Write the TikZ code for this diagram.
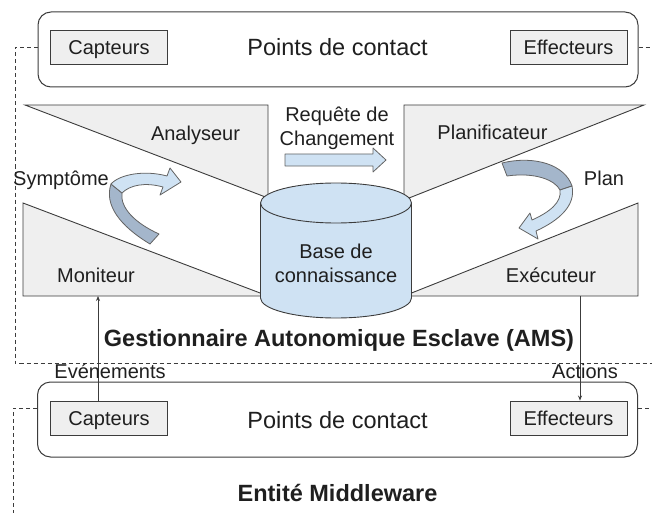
\documentclass[tikz,border=0pt]{standalone}
\usepackage{fontspec}
\setmainfont{Liberation Sans}
\usetikzlibrary{arrows.meta}
\definecolor{kbblue}{HTML}{CFE2F3}
\definecolor{kbdark}{HTML}{A4B6CB}
\definecolor{boxgray}{HTML}{EFEFEF}
\definecolor{linecol}{HTML}{3C3C3C}
\definecolor{txtcol}{HTML}{1F1F1F}

\begin{document}
\begin{tikzpicture}[x=1pt,y=-1pt,
  lbl/.style={font=\fontsize{20}{24}\selectfont,text=txtcol,inner sep=0pt,
    text height=14.3pt,text depth=0pt},
  lbltwo/.style={font=\fontsize{20}{24}\selectfont,text=txtcol,inner sep=0pt,align=center},
  pnt/.style={font=\fontsize{23.5}{28}\selectfont,text=txtcol,inner sep=0pt,
    text height=16.8pt,text depth=0pt},
  ttl/.style={font=\fontsize{23.5}{28}\selectfont\bfseries,text=txtcol,inner sep=0pt,
    text height=16.8pt,text depth=0pt},
  frame/.style={draw=linecol,line width=1pt,rounded corners=13pt,fill=white,
    minimum width=600pt,minimum height=75pt,inner sep=0pt},
  sensor/.style={lbl,draw=linecol,line width=0.9pt,fill=boxgray,
    minimum width=117pt,minimum height=34pt},
  wedge/.style={draw=linecol,line width=0.9pt,fill=boxgray},
  ribbon/.style={draw=linecol!80,line width=0.8pt,line join=round},
  dashline/.style={draw=linecol,line width=0.8pt,dash pattern=on 4pt off 3pt},
  flow/.style={draw=linecol,line width=0.8pt,-{Stealth[length=5pt,width=4pt]}}]
  \useasboundingbox (0,0) rectangle (652,513);

  % points de contact du haut
  \node[frame] (topbox) at (338,49.5) {};
  \node[sensor] (capT) at (109,47) {Capteurs};
  \node[sensor] (effT) at (568.5,47) {Effecteurs};
  \node[pnt] (ptT) at (337.5,47) {Points de contact};

  % cadre AMS
  \coordinate (amsTL) at (15,47);
  \coordinate (amsBL) at (15,363);
  \coordinate (amsBR) at (652,363);
  \coordinate (amsTR) at (652,47);
  \draw[dashline] (topbox.west |- capT) -- (amsTL) -- (amsBL) -- (amsBR);
  \draw[dashline] (topbox.east |- effT) -- (amsTR);

  % les quatre fonctions MAPE
  \filldraw[wedge] (25,105) -- (268,105) -- (268,198) -- cycle;
  \filldraw[wedge] (23,203) -- (23,296) -- (268,296) -- cycle;
  \filldraw[wedge] (404,105) -- (644,105) -- (404,200) -- cycle;
  \filldraw[wedge] (638,203) -- (638,296) -- (404,296) -- cycle;
  \node[lbl] (ana) at (195.5,133) {Analyseur};
  \node[lbl] (mon) at (96,275) {Moniteur};
  \node[lbl] (pla) at (492.5,132) {Planificateur};
  \node[lbl] (exe) at (551,275) {Exécuteur};

  % base de connaissance
  \fill[kbblue] (260.5,203) -- (260.5,298)
    arc[start angle=180,end angle=360,x radius=75.5pt,y radius=20pt]
    -- (411.5,203)
    arc[start angle=0,end angle=180,x radius=75.5pt,y radius=20pt] -- cycle;
  \draw[linecol,line width=0.9pt] (260.5,203) -- (260.5,298)
    arc[start angle=180,end angle=360,x radius=75.5pt,y radius=20pt]
    -- (411.5,203);
  \draw[linecol,line width=0.9pt] (336,203) ellipse [x radius=75.5pt,y radius=20pt];
  \node[lbltwo] (kb) at (336,263) {Base de\\connaissance};

  % requete de changement
  \node[lbltwo] (req) at (337,128.5) {Requête de\\Changement};
  \filldraw[ribbon,fill=kbblue] (285,154) -- (373,154) -- (373,148) -- (386,160)
    -- (373,172) -- (373,166) -- (285,166) -- cycle;

  % symptome
  \filldraw[ribbon,fill=kbdark] (150,244) .. controls (120,226) and (104,205) .. (111,184)
    -- (122,193) .. controls (120,208) and (135,223) .. (159,234) -- cycle;
  \filldraw[ribbon,fill=kbblue] (111,184) .. controls (120,174) and (145,170) .. (167,176)
    -- (170,168) -- (181,182) -- (160,195) -- (163,187)
    .. controls (145,182) and (130,185) .. (122,193) -- cycle;
  \node[lbl] (sym) at (61,178) {Symptôme};

  % plan
  \filldraw[ribbon,fill=kbdark] (502,163) .. controls (535,155) and (565,165) .. (572,186)
    -- (560,190) .. controls (555,180) and (535,172) .. (507,176) -- cycle;
  \filldraw[ribbon,fill=kbblue] (572,186) .. controls (576,205) and (560,220) .. (536,231)
    -- (538,239) -- (519,228) -- (530,213) -- (532,220)
    .. controls (550,212) and (562,202) .. (560,190) -- cycle;
  \node[lbl] (plan) at (604,178) {Plan};

  \node[ttl] (ams) at (339,338) {Gestionnaire Autonomique Esclave (AMS)};

  % points de contact du bas
  \node[frame] (botbox) at (337.5,419.5) {};
  \node[sensor] (capB) at (109,418) {Capteurs};
  \node[sensor] (effB) at (568.5,418) {Effecteurs};
  \node[pnt] (ptB) at (337.5,420) {Points de contact};

  % cadre middleware
  \coordinate (mwTL) at (13,408);
  \coordinate (mwBL) at (13,513);
  \coordinate (mwTR) at (652,408);
  \draw[dashline] (botbox.west |- mwTL) -- (mwTL) -- (mwBL);
  \draw[dashline] (botbox.east |- mwTR) -- (mwTR);
  \node[ttl] (mw) at (337.5,493) {Entité Middleware};

  % evenements et actions
  \coordinate (monbase) at (98,296);
  \coordinate (exebase) at (580,296);
  \draw[flow] (capB.north -| monbase) -- (monbase);
  \draw[flow] (exebase) -- (effB.north -| exebase);
  \node[lbl] (evt) at (110,371) {Evénements};
  \node[lbl] (act) at (585,371) {Actions};
\end{tikzpicture}
\end{document}
